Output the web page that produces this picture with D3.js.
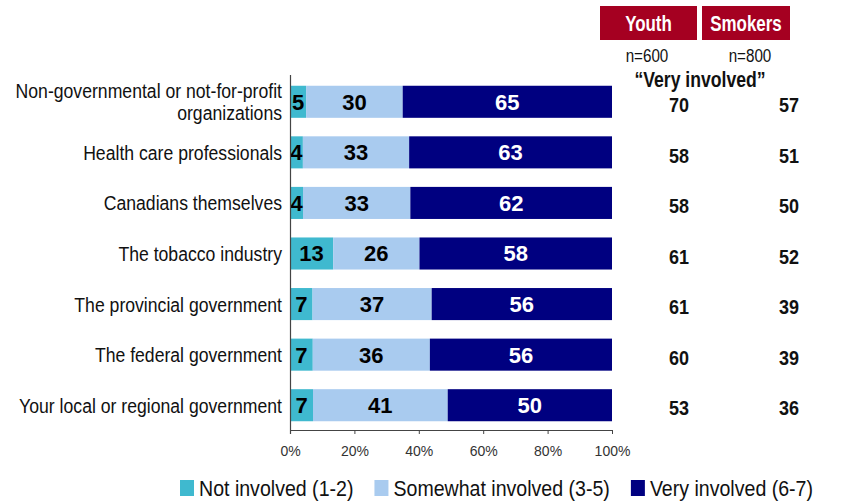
<!DOCTYPE html>
<html>
<head>
<meta charset="utf-8">
<script src="https://cdn.jsdelivr.net/npm/d3@7"></script>
<style>
  html, body { margin: 0; padding: 0; background: #fff; }
  svg { display: block; }
  text { font-family: "Liberation Sans", Arial, sans-serif; }
</style>
</head>
<body>
<svg id="chart" width="842" height="502"></svg>
<script>
// Survey: how involved each actor should be (% of respondents)
const categories = [
  ["Non-governmental or not-for-profit", "organizations"],
  ["Health care professionals"],
  ["Canadians themselves"],
  ["The tobacco industry"],
  ["The provincial government"],
  ["The federal government"],
  ["Your local or regional government"]
];
const notInvolved = [5, 4, 4, 13, 7, 7, 7];
const somewhatInvolved = [30, 33, 33, 26, 37, 36, 41];
const veryInvolved = [65, 63, 62, 58, 56, 56, 50];

// "Very involved" shares in the two comparison samples
const youthVery = [70, 58, 58, 61, 61, 60, 53];
const smokersVery = [57, 51, 50, 52, 39, 39, 36];

const seriesNames = ["Not involved (1-2)", "Somewhat involved (3-5)", "Very involved (6-7)"];
const seriesColors = ["#3fb9cf", "#a9cbef", "#000080"];
const labelColors = ["#000", "#000", "#fff"];
const tickValues = [0, 0.2, 0.4, 0.6, 0.8, 1];
const groupNames = ["Youth", "Smokers"];
const groupSizes = ["n=600", "n=800"];

const svg = d3.select("#chart");

// text drawn horizontally condensed (narrow face look)
function narrowText(parent, x, y, str, opts) {
  const g = parent.append("g")
    .attr("transform", `translate(${x},${y}) scale(${opts.sx},1)`);
  return g.append("text")
    .attr("x", 0).attr("y", 0)
    .attr("dy", "0.36em")
    .attr("text-anchor", opts.anchor || "middle")
    .attr("font-size", opts.size)
    .attr("font-weight", opts.weight || "normal")
    .attr("fill", opts.fill || "#111")
    .text(str);
}

const x = d3.scaleLinear().domain([0, 1]).range([290, 612]);
const y = d3.scaleBand()
  .domain(d3.range(categories.length))
  .range([76.5, 430.5])
  .paddingInner(0.366)
  .paddingOuter(0.183);

// 100% stacked layout
const table = categories.map((c, i) => ({
  i, s0: notInvolved[i], s1: somewhatInvolved[i], s2: veryInvolved[i]
}));
const stacked = d3.stack().keys(["s0", "s1", "s2"]).offset(d3.stackOffsetExpand)(table);

const layer = svg.selectAll("g.layer").data(stacked).join("g")
  .attr("class", "layer")
  .attr("fill", d => seriesColors[d.index]);

layer.selectAll("rect").data(d => d).join("rect")
  .attr("x", d => x(d[0]))
  .attr("width", d => x(d[1]) - x(d[0]))
  .attr("y", d => y(d.data.i))
  .attr("height", y.bandwidth());

stacked.forEach(ser => {
  svg.append("g").selectAll("text").data(ser).join("text")
    .attr("x", d => (x(d[0]) + x(d[1])) / 2)
    .attr("y", d => y(d.data.i) + y.bandwidth() / 2)
    .attr("dy", "0.36em")
    .attr("text-anchor", "middle")
    .attr("font-size", 22)
    .attr("font-weight", "bold")
    .attr("fill", labelColors[ser.index])
    .text(d => d.data[ser.key]);
});

// category labels
categories.forEach((lines, i) => {
  const cy = y(i) + y.bandwidth() / 2;
  const lh = 22;
  lines.forEach((ln, j) => {
    narrowText(svg, 282, cy + (j - (lines.length - 1) / 2) * lh, ln,
      { sx: 0.84, size: 21, anchor: "end" });
  });
});

// x axis
const xAxis = d3.axisBottom(x).tickValues(tickValues).tickSize(4).tickFormat(d3.format(".0%"));
const ax = svg.append("g").attr("transform", "translate(0,430)").call(xAxis);
ax.select(".domain").attr("stroke", "#444").attr("d", "M290,0.5H612");
ax.selectAll(".tick line").attr("stroke", "#444");
ax.selectAll(".tick text")
  .attr("y", 16)
  .attr("font-size", 14)
  .attr("fill", "#333");

// vertical baseline
svg.append("line")
  .attr("x1", 290.5).attr("x2", 290.5)
  .attr("y1", 75).attr("y2", 434)
  .attr("stroke", "#444").attr("stroke-width", 1.2);

// comparison headers
const headerBoxes = [{ x0: 600, x1: 697 }, { x0: 702, x1: 790 }];
const nCenters = [647, 750];
headerBoxes.forEach((b, i) => {
  svg.append("rect")
    .attr("x", b.x0).attr("y", 6)
    .attr("width", b.x1 - b.x0).attr("height", 34)
    .attr("fill", "#a50021");
  narrowText(svg, (b.x0 + b.x1) / 2, 23, groupNames[i],
    { sx: 0.77, size: 22, weight: "bold", fill: "#fff" });
  narrowText(svg, nCenters[i], 55, groupSizes[i], { sx: 0.8, size: 19 });
});
narrowText(svg, 700, 79, "\u201CVery involved\u201D", { sx: 0.8, size: 22, weight: "bold" });

const colX = [679, 789];
[youthVery, smokersVery].forEach((arr, c) => {
  arr.forEach((v, i) => {
    narrowText(svg, colX[c], y(i) + y.bandwidth() / 2 + 3, v,
      { sx: 0.9, size: 20, weight: "bold" });
  });
});

// legend
const legend = svg.append("g").attr("transform", "translate(180,488)");
let lx = 0;
seriesNames.forEach((name, k) => {
  legend.append("rect")
    .attr("x", lx).attr("y", -8)
    .attr("width", 14).attr("height", 16)
    .attr("fill", seriesColors[k]);
  const sx = 0.89;
  const t = narrowText(legend, lx + 19, 0, name, { sx, size: 22, anchor: "start" });
  lx += 19 + t.node().getComputedTextLength() * sx + 21;
});
</script>
</body>
</html>
